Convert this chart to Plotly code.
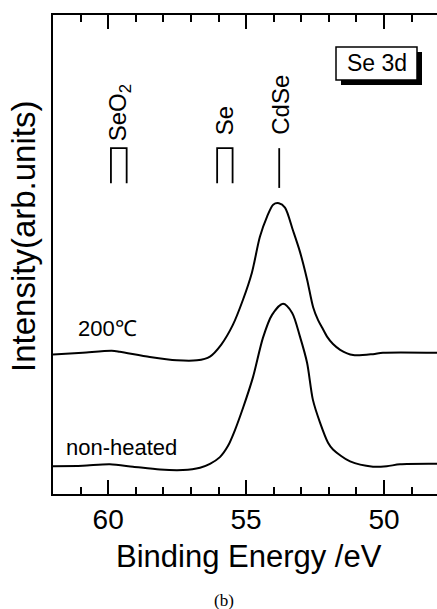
import plotly.graph_objects as go

# Se 3d XPS spectra (intensity in arbitrary units, offset vertically)
energy_200 = [62.0, 60.92, 59.87, 59.58, 58.49, 57.51, 56.78, 56.31, 55.90, 55.48,
              55.11, 54.79, 54.50, 54.24, 54.02, 53.81, 53.59, 53.30, 53.05, 52.79,
              52.57, 52.39, 52.24, 52.06, 51.85, 51.59, 51.12, 50.40, 50.04, 48.08]
int_200 = [29.1, 29.5, 29.9, 29.7, 28.6, 27.9, 27.9, 28.7, 31.2, 35.3,
           40.6, 46.2, 53.7, 57.9, 60.4, 60.7, 59.8, 55.0, 50.6, 44.8,
           39.0, 36.3, 34.7, 32.8, 31.3, 30.1, 29.0, 29.2, 29.5, 29.5]

energy_nh = [62.0, 60.92, 59.94, 59.10, 58.12, 57.29, 56.67, 56.31, 55.95, 55.66,
             55.40, 55.11, 54.75, 54.39, 54.06, 53.66, 53.33, 53.05, 52.79, 52.58,
             52.32, 52.03, 51.85, 51.23, 50.40, 49.90, 49.42, 48.08]
int_nh = [5.8, 5.9, 6.2, 5.7, 5.1, 5.0, 5.5, 6.3, 7.7, 10.0,
          13.4, 18.0, 24.4, 32.6, 37.4, 39.7, 37.8, 32.9, 27.4, 19.7,
          14.9, 10.7, 9.3, 6.8, 5.7, 5.8, 6.2, 6.3]

# Reference binding energies (3d5/2, 3d3/2) for the chemical states
ref_labels = ["SeO<sub>2</sub>", "Se", "CdSe"]
ref_pairs = [(59.90, 59.33), (56.05, 55.49), (53.80, 53.80)]
ref_text_x = [59.58, 55.77, 53.78]

sample_labels = ["200\u2103", "non-heated"]
x_range = [62, 48.08]
y_range = [0, 100]

W, H = 437, 609
L, R, T, B = 53, 0, 15, 115
PW, PH = W - L - R, H - T - B


def px_x(p):
    return (p - L) / PW


def px_y(p):
    return (H - B - p) / PH


FONT = "Liberation Sans, Arial, Helvetica, sans-serif"

fig = go.Figure()

for e, i in [(energy_200, int_200), (energy_nh, int_nh)]:
    fig.add_trace(go.Scatter(x=e, y=i, mode="lines",
                             line=dict(color="black", width=2, shape="spline", smoothing=0.8),
                             hoverinfo="skip", showlegend=False))

# reference markers: bracket for doublets, single bar for CdSe
y_top, y_bot = 72.2, 64.9
for (e1, e2) in ref_pairs:
    if e1 == e2:
        xs, ys = [e1, e1], [y_top, y_bot - 1.0]
    else:
        xs, ys = [e1, e1, e2, e2], [y_bot, y_top, y_top, y_bot]
    fig.add_trace(go.Scatter(x=xs, y=ys, mode="lines",
                             line=dict(color="black", width=1.8),
                             hoverinfo="skip", showlegend=False))


def label(x, y, text, size, xref="paper", angle=0, xanchor="center", yanchor="middle",
          family=FONT):
    return dict(x=x, xref=xref, y=y, yref="paper", text=text, textangle=angle,
                showarrow=False, xanchor=xanchor, yanchor=yanchor,
                font=dict(family=family, size=size, color="black"))


annotations = []
text_bottoms = [143, 137, 137]
for lab, xe, yb in zip(ref_labels, ref_text_x, text_bottoms):
    annotations.append(label(xe, px_y(yb), lab, 24, xref="x", angle=-90, yanchor="bottom"))

annotations += [
    label(px_x(107), px_y(328), sample_labels[0], 22),
    label(px_x(121), px_y(447), sample_labels[1], 22),
    label(px_x(376.5), px_y(63.5), "Se 3d", 23),
    label(px_x(249), px_y(556), "Binding Energy /eV", 31),
    label(px_x(24), px_y(237), "Intensity(arb.units)", 33, angle=-90),
    label(px_x(224), px_y(600), "(b)", 17,
          family="Liberation Serif, Times New Roman, serif"),
]

# "Se 3d" box with a drop shadow
shapes = [
    dict(type="rect", xref="paper", yref="paper",
         x0=px_x(341), x1=px_x(422), y0=px_y(85), y1=px_y(52),
         fillcolor="black", line=dict(width=0)),
    dict(type="rect", xref="paper", yref="paper",
         x0=px_x(336), x1=px_x(417), y0=px_y(80), y1=px_y(47),
         fillcolor="white", line=dict(color="black", width=1.5)),
]

fig.update_layout(
    template="none",
    width=W, height=H,
    margin=dict(l=L, r=R, t=T, b=B),
    paper_bgcolor="white", plot_bgcolor="white",
    annotations=annotations, shapes=shapes,
    hovermode=False,
    xaxis=dict(range=x_range, showgrid=False, zeroline=False,
               showline=True, linecolor="black", linewidth=1.5, mirror="allticks",
               tickmode="linear", tick0=50, dtick=5,
               ticks="inside", ticklen=14, tickwidth=1.5, tickcolor="black",
               tickfont=dict(family=FONT, size=28, color="black"),
               minor=dict(ticks="inside", ticklen=7, tickwidth=1.5, tickcolor="black",
                          dtick=1, tick0=50, showgrid=False)),
    yaxis=dict(range=y_range, showgrid=False, zeroline=False,
               showline=True, linecolor="black", linewidth=1.5,
               showticklabels=False, ticks=""),
)

fig.write_html("out.html", config={"displayModeBar": False})
